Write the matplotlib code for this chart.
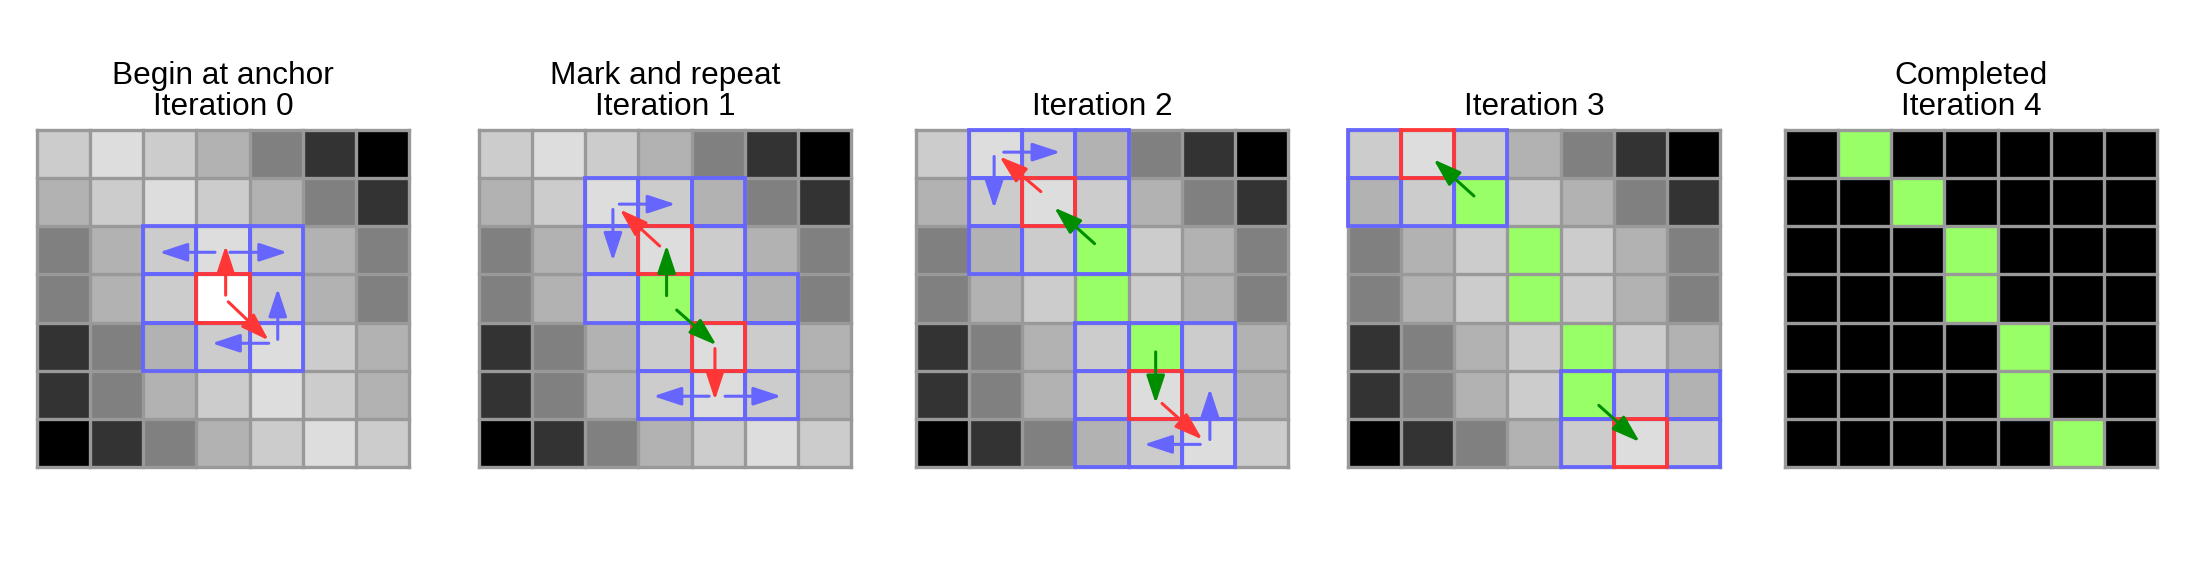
import numpy as np
import matplotlib
matplotlib.use("Agg")
import matplotlib.pyplot as plt
from matplotlib.patches import Rectangle, FancyArrowPatch

plt.rcParams['font.family'] = ['Liberation Sans', 'DejaVu Sans']

# base gray image, 0 = black, 255 = white, row 0 at the top
gray = [
    [204, 221, 204, 178, 128,  51,   0],
    [178, 204, 221, 204, 178, 128,  51],
    [128, 178, 204, 221, 204, 178, 128],
    [128, 178, 204, 255, 204, 178, 128],
    [ 51, 128, 178, 204, 221, 204, 178],
    [ 51, 128, 178, 204, 221, 204, 178],
    [  0,  51, 128, 178, 204, 221, 204],
]

titles = ["Begin at anchor\nIteration 0", "Mark and repeat\nIteration 1",
          "Iteration 2", "Iteration 3", "Completed\nIteration 4"]

# cells are (col, row)
green_cells = [
    [],
    [(3, 3)],
    [(3, 2), (3, 3), (4, 4)],
    [(2, 1), (3, 2), (3, 3), (4, 4), (4, 5)],
    [(1, 0), (2, 1), (3, 2), (3, 3), (4, 4), (4, 5), (5, 6)],
]
red_cells = [
    [(3, 3)],
    [(3, 2), (4, 4)],
    [(2, 1), (4, 5)],
    [(1, 0), (5, 6)],
    [],
]
black_bg = [False, False, False, False, True]

# arrows per panel: (colour key, x0, y0, x1, y1)
arrows = [
    [("red", 3.05, 2.93, 3.05, 1.90), ("red", 3.10, 3.07, 3.86, 3.87),
     ("blue", 2.85, 2.04, 1.80, 2.04), ("blue", 3.13, 2.04, 4.21, 2.04),
     ("blue", 4.03, 3.85, 4.03, 2.79), ("blue", 3.86, 3.93, 2.79, 3.93)],
    [("green", 3.03, 2.94, 3.03, 1.89), ("green", 3.22, 3.24, 3.97, 3.97),
     ("red", 2.90, 1.91, 2.15, 1.15), ("blue", 2.14, 1.04, 3.20, 1.04),
     ("blue", 2.02, 1.15, 2.02, 2.22), ("red", 3.94, 4.04, 3.94, 5.11),
     ("blue", 3.83, 5.03, 2.78, 5.03), ("blue", 4.13, 5.03, 5.19, 5.03)],
    [("green", 2.86, 1.86, 2.10, 1.11), ("red", 1.85, 0.78, 1.07, 0.05),
     ("blue", 1.15, -0.04, 2.22, -0.04), ("blue", 0.97, 0.05, 0.97, 1.13),
     ("green", 4.01, 4.11, 4.01, 5.18), ("red", 4.13, 5.18, 4.89, 5.93),
     ("blue", 5.03, 5.93, 5.03, 4.87), ("blue", 4.85, 6.03, 3.79, 6.03)],
    [("green", 1.87, 0.87, 1.11, 0.11), ("green", 4.22, 5.22, 4.99, 5.98)],
    [],
]

colors = {"red": "#FF3636", "blue": "#6666FF", "green": "#008E00"}
grid_col = "#999999"
fill_green = np.array([153, 255, 102]) / 255.0

W, H = 2208, 576
fig = plt.figure(figsize=(W / 100, H / 100), dpi=100)
lefts = [37, 479, 916, 1348, 1785]   # pixel positions of the panels
top_px, bot_px, w_px = 130, 467, 372

n = len(gray)
for i in range(5):
    ax = fig.add_axes([lefts[i] / W, 1 - bot_px / H, w_px / W, (bot_px - top_px) / H])

    g = np.array(gray, dtype=float) / 255.0
    if black_bg[i]:
        g = np.zeros_like(g)
    img = np.dstack([g, g, g])
    for (c, r) in green_cells[i]:
        img[r, c] = fill_green
    ax.imshow(img, interpolation='nearest', aspect='auto')

    # gray grid
    for k in range(n + 1):
        ax.plot([k - 0.5, k - 0.5], [-0.5, n - 0.5], color=grid_col, lw=2.4,
                clip_on=False, zorder=2, solid_capstyle='projecting')
        ax.plot([-0.5, n - 0.5], [k - 0.5, k - 0.5], color=grid_col, lw=2.4,
                clip_on=False, zorder=2, solid_capstyle='projecting')

    # neighbours of the red cells get blue outlines
    neigh = set()
    for (c, r) in red_cells[i]:
        for dc in (-1, 0, 1):
            for dr in (-1, 0, 1):
                if (dc, dr) != (0, 0) and 0 <= c + dc < n and 0 <= r + dr < n:
                    neigh.add((c + dc, r + dr))
    for (c, r) in sorted(neigh):
        ax.add_patch(Rectangle((c - 0.5, r - 0.5), 1, 1, fill=False,
                               ec=colors["blue"], lw=2.7, clip_on=False, zorder=3))
    for (c, r) in red_cells[i]:
        ax.add_patch(Rectangle((c - 0.5, r - 0.5), 1, 1, fill=False,
                               ec=colors["red"], lw=2.7, clip_on=False, zorder=4))

    for (k, x0, y0, x1, y1) in arrows[i]:
        ax.add_patch(FancyArrowPatch((x0, y0), (x1, y1),
                                     arrowstyle='-|>,head_length=17,head_width=5.6',
                                     mutation_scale=1, lw=2.2, color=colors[k],
                                     shrinkA=0, shrinkB=0, zorder=5))

    ax.set_xlim(-0.5, n - 0.5)
    ax.set_ylim(n - 0.5, -0.5)
    ax.axis('off')
    ax.set_title(titles[i], fontsize=22.8, pad=11, linespacing=1.05)

fig.savefig("out.png", dpi=100)
